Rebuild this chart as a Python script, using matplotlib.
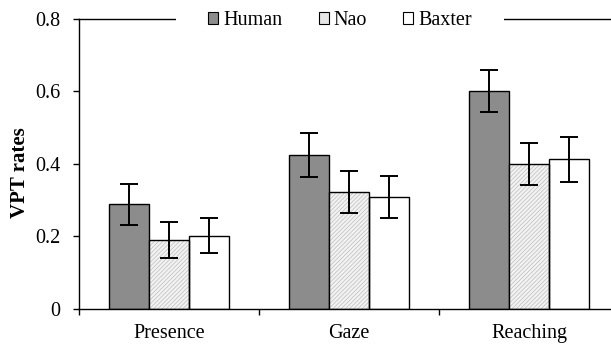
import numpy as np
import matplotlib
matplotlib.use("Agg")
import matplotlib.pyplot as plt
from matplotlib.patches import Patch

# data
categories = ["Presence", "Gaze", "Reaching"]
series = ["Human", "Nao", "Baxter"]
human = [0.288, 0.424, 0.600]
human_err = [0.056, 0.060, 0.058]
nao = [0.190, 0.322, 0.400]
nao_err = [0.050, 0.058, 0.058]
baxter = [0.202, 0.308, 0.412]
baxter_err = [0.048, 0.057, 0.063]
yticks = [0, 0.2, 0.4, 0.6, 0.8]
ytick_labels = ["0", "0.2", "0.4", "0.6", "0.8"]

plt.rcParams["font.family"] = ["Liberation Serif", "DejaVu Serif"]
plt.rcParams["hatch.linewidth"] = 0.5

fig = plt.figure(figsize=(6.11, 3.44), dpi=100)
ax = fig.add_axes([79 / 611, 35 / 344, 1 - 79 / 611, (309 - 18.5) / 344])

x = np.arange(len(categories)) + 0.5
w = 40 / 180
err_kw = dict(ecolor="black", elinewidth=1.4, capsize=6.3, capthick=1.4)

ax.bar(x - w, human, w, color="#8c8c8c", edgecolor="black", linewidth=1.0,
       yerr=human_err, error_kw=err_kw, zorder=2)
# hatched fill first, then the black outline on top
ax.bar(x, nao, w, color="#f2f2f2", edgecolor="#bdbdbd", linewidth=0,
       hatch="////////", zorder=2)
ax.bar(x, nao, w, color="none", edgecolor="black", linewidth=1.0,
       yerr=nao_err, error_kw=err_kw, zorder=3)
ax.bar(x + w, baxter, w, color="white", edgecolor="black", linewidth=1.0,
       yerr=baxter_err, error_kw=err_kw, zorder=2)

ax.set_xlim(0, (611 - 79) / 180)
ax.set_ylim(0, 0.8)
ax.set_yticks(yticks)
ax.set_yticklabels(ytick_labels)
ax.set_xticks([0, 1, 2])
ax.set_xticklabels([])
ax.set_xticks(x, minor=True)
ax.set_xticklabels(categories, minor=True)
ax.tick_params(axis="x", which="major", direction="out", length=4, width=1.0)
ax.tick_params(axis="x", which="minor", length=0, pad=10.5, labelsize=14.5)
ax.tick_params(axis="y", direction="out", length=4.5, width=1.0, pad=9,
               labelsize=14.5)

for s in ["left", "bottom", "top"]:
    ax.spines[s].set_linewidth(1.0)
ax.spines["right"].set_visible(False)

ax.set_ylabel("VPT rates", fontsize=15, fontweight="bold", va="center")
ax.yaxis.set_label_coords(20 / 611, (344 - 173) / 344, transform=fig.transFigure)

# legend sits on the top spine, white box hides the line behind it
handles = [
    Patch(facecolor="#8c8c8c", edgecolor="black", linewidth=0.8),
    Patch(facecolor="#e6e6e6", edgecolor="black", linewidth=0.8),
    Patch(facecolor="white", edgecolor="black", linewidth=0.8),
]
leg = ax.legend(handles, series, loc="center", ncol=3, fontsize=14.5,
                bbox_to_anchor=(340 / 611, (344 - 20.5) / 344),
                bbox_transform=fig.transFigure,
                frameon=True, facecolor="white", edgecolor="none", framealpha=1,
                handlelength=0.5, handleheight=0.5, handletextpad=0.25,
                columnspacing=1.8, borderpad=0.1, borderaxespad=0)
leg.get_frame().set_boxstyle("square", pad=1.5)
leg.set_zorder(10)

fig.savefig("out.png", dpi=100)
